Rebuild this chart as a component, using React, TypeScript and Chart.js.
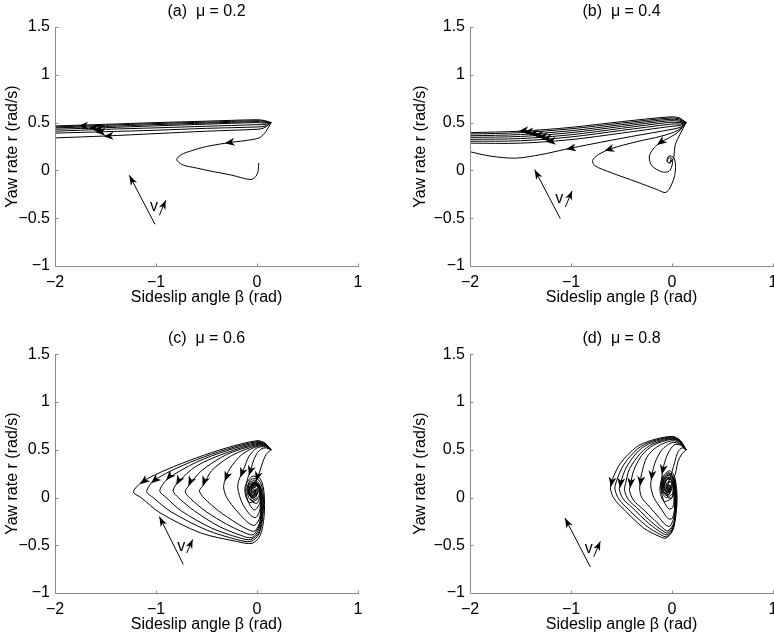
import React, { useEffect, useRef } from "react";
import { Chart, registerables } from "chart.js";

Chart.register(...registerables);

type Pt = [number, number];
type Arrow = [number, number, number, number]; // fromX, fromY, toX(tip), toY(tip)

// ---------- axis ticks & labels ----------
const xTickValues = [-2, -1, 0, 1];
const xTickLabels = ["\u22122", "\u22121", "0", "1"];
const yTickValues = [-1, -0.5, 0, 0.5, 1, 1.5];
const yTickLabels = ["\u22121", "\u22120.5", "0", "0.5", "1", "1.5"];
const panelTitles = ["(a)  \u03bc = 0.2", "(b)  \u03bc = 0.4", "(c)  \u03bc = 0.6", "(d)  \u03bc = 0.8"];
const xAxisTitle = "Sideslip angle \u03b2 (rad)";
const yAxisTitle = "Yaw rate r (rad/s)";
const speedLabel = "v";

// ---------- (a) mu = 0.2 ----------
const trajA1: Pt[] = [[0.14,0.5],[0.08,0.52],[0.0,0.53],[-0.5,0.515],[-1.0,0.5],[-1.5,0.482],[-2.0,0.465]];
const trajA2: Pt[] = [[0.14,0.5],[0.07,0.515],[0.0,0.52],[-0.5,0.505],[-1.0,0.49],[-1.5,0.472],[-2.0,0.455]];
const trajA3: Pt[] = [[0.14,0.5],[0.07,0.505],[0.0,0.51],[-0.5,0.495],[-1.0,0.479],[-1.5,0.46],[-2.0,0.445]];
const trajA4: Pt[] = [[0.14,0.5],[0.07,0.495],[0.0,0.5],[-0.5,0.484],[-1.0,0.466],[-1.5,0.447],[-2.0,0.43]];
const trajA5: Pt[] = [[0.14,0.5],[0.08,0.48],[0.0,0.478],[-0.5,0.462],[-1.0,0.445],[-1.5,0.43],[-2.0,0.41]];
const trajA6: Pt[] = [[0.14,0.5],[0.09,0.465],[0.02,0.455],[-0.5,0.44],[-1.0,0.42],[-1.5,0.405],[-2.0,0.39]];
const trajA7: Pt[] = [[0.14,0.5],[0.1,0.465],[0.06,0.44],[0.0,0.43],[-0.5,0.41],[-1.0,0.385],[-1.5,0.36],[-2.0,0.34]];
const trajA8: Pt[] = [[0.14,0.5],[0.09,0.41],[0.03,0.345],[-0.05,0.322],[-0.27,0.291],[-0.5,0.25],[-0.65,0.205],[-0.75,0.165],[-0.795,0.113],[-0.74,0.06],[-0.6,0.025],[-0.465,-0.006],[-0.25,-0.05],[-0.06,-0.096],[-0.01,-0.06],[0.012,0.0],[0.017,0.077]];
const arrowsA: Arrow[] = [
  [-1.62,0.47,-1.77,0.465],
  [-1.52,0.447,-1.67,0.442],
  [-1.47,0.43,-1.62,0.425],
  [-1.45,0.405,-1.6,0.4],
  [-1.37,0.364,-1.52,0.358],
  [-0.2,0.303,-0.32,0.283],
];
const vLongA: Pt[] = [[-1.01,-0.564],[-1.264,-0.051]];
const vShortA: Pt[] = [[-0.967,-0.47],[-0.904,-0.313]];
const vLabelA: Pt = [-1.02,-0.38];

// ---------- (b) mu = 0.4 ----------
const trajB1: Pt[] = [[0.14,0.5],[0.07,0.55],[-0.02,0.56],[-0.5,0.51],[-1.0,0.45],[-1.5,0.41],[-2.0,0.395]];
const trajB2: Pt[] = [[0.14,0.5],[0.07,0.54],[-0.02,0.548],[-0.5,0.495],[-1.0,0.435],[-1.5,0.395],[-2.0,0.38]];
const trajB3: Pt[] = [[0.14,0.5],[0.07,0.528],[-0.02,0.535],[-0.5,0.478],[-1.0,0.415],[-1.5,0.375],[-2.0,0.362]];
const trajB4: Pt[] = [[0.14,0.5],[0.07,0.515],[-0.02,0.52],[-0.5,0.46],[-1.0,0.395],[-1.5,0.355],[-2.0,0.345]];
const trajB5: Pt[] = [[0.14,0.5],[0.07,0.5],[-0.02,0.503],[-0.5,0.44],[-1.0,0.373],[-1.5,0.333],[-2.0,0.325]];
const trajB6: Pt[] = [[0.14,0.5],[0.08,0.485],[0.0,0.485],[-0.5,0.418],[-1.0,0.35],[-1.5,0.31],[-2.0,0.305]];
const trajB7: Pt[] = [[0.14,0.5],[0.08,0.47],[0.0,0.462],[-0.5,0.39],[-1.0,0.322],[-1.5,0.285],[-2.0,0.285]];
const trajB8: Pt[] = [[0.14,0.5],[0.08,0.45],[0.0,0.43],[-0.4,0.355],[-0.8,0.275],[-1.05,0.222],[-1.3,0.165],[-1.55,0.128],[-1.8,0.15],[-2.0,0.195]];
const trajB9: Pt[] = [[0.14,0.5],[0.06,0.42],[-0.1,0.36],[-0.35,0.3],[-0.6,0.228],[-0.73,0.165],[-0.785,0.105],[-0.765,0.05],[-0.6,-0.025],[-0.35,-0.12],[-0.15,-0.2],[-0.07,-0.232],[-0.03,-0.2],[0.02,-0.08],[0.035,0.03],[0.02,0.13],[-0.03,0.15],[-0.05,0.1],[-0.025,0.075],[-0.005,0.1],[-0.02,0.115]];
const trajB10: Pt[] = [[0.14,0.5],[0.06,0.4],[-0.04,0.335],[-0.12,0.29],[-0.19,0.22],[-0.225,0.14],[-0.2,0.05],[-0.1,-0.015],[-0.03,-0.01],[0.0,0.05],[0.0,0.12],[-0.035,0.13],[-0.045,0.09],[-0.02,0.08],[-0.015,0.105]];
const trajB11: Pt[] = [[0.14,0.5],[0.08,0.38],[0.03,0.26],[0.02,0.15],[0.0,0.1],[-0.02,0.1]];
const arrowsB: Arrow[] = [
  [-1.38,0.425,-1.52,0.41],
  [-1.33,0.41,-1.47,0.4],
  [-1.28,0.393,-1.42,0.382],
  [-1.23,0.377,-1.37,0.365],
  [-1.19,0.36,-1.33,0.347],
  [-1.15,0.342,-1.29,0.327],
  [-1.11,0.313,-1.25,0.3],
  [-0.92,0.248,-1.05,0.222],
  [-0.55,0.243,-0.67,0.205],
  [-0.08,0.318,-0.15,0.265],
];
const vLongB: Pt[] = [[-1.106,-0.504],[-1.36,0.008]];
const vShortB: Pt[] = [[-1.056,-0.383],[-0.99,-0.215]];
const vLabelB: Pt = [-1.116,-0.29];

// ---------- (c) mu = 0.6 ----------
const trajC1: Pt[] = [[0.14,0.5],[0.08,0.57],[0.0,0.595],[-0.3,0.52],[-0.6,0.415],[-0.9,0.29],[-1.13,0.17],[-1.21,0.09],[-1.22,0.05],[-1.15,0.0],[-0.96,-0.16],[-0.56,-0.37],[-0.2,-0.46],[-0.05,-0.48],[0.03,-0.4],[0.07,-0.2],[0.07,0.05],[0.03,0.2],[-0.05,0.22],[-0.12,0.1],[-0.08,-0.05],[0.02,0.0],[0.03,0.12],[-0.03,0.15],[-0.06,0.07],[-0.02,0.04],[-0.01,0.09]];
const trajC2: Pt[] = [[0.14,0.5],[0.08,0.565],[0.0,0.585],[-0.3,0.505],[-0.6,0.395],[-0.85,0.28],[-1.03,0.17],[-1.08,0.1],[-1.09,0.055],[-1.03,0.0],[-0.85,-0.15],[-0.5,-0.34],[-0.2,-0.44],[-0.06,-0.46],[0.02,-0.38],[0.06,-0.18],[0.06,0.05],[0.02,0.18],[-0.06,0.19],[-0.1,0.08],[-0.06,-0.03],[0.02,0.02],[0.02,0.12],[-0.04,0.12],[-0.03,0.07]];
const trajC3: Pt[] = [[0.14,0.5],[0.08,0.56],[0.0,0.575],[-0.3,0.49],[-0.6,0.37],[-0.88,0.2],[-0.95,0.11],[-0.96,0.06],[-0.9,0.0],[-0.75,-0.14],[-0.45,-0.32],[-0.18,-0.42],[-0.06,-0.44],[0.02,-0.36],[0.055,-0.15],[0.05,0.06],[0.0,0.17],[-0.07,0.16],[-0.09,0.06],[-0.04,-0.01],[0.01,0.05],[0.0,0.12],[-0.04,0.1]];
const trajC4: Pt[] = [[0.14,0.5],[0.08,0.555],[0.0,0.565],[-0.3,0.47],[-0.6,0.33],[-0.79,0.15],[-0.83,0.07],[-0.78,0.0],[-0.62,-0.14],[-0.38,-0.3],[-0.15,-0.4],[-0.05,-0.42],[0.02,-0.33],[0.05,-0.12],[0.04,0.07],[-0.01,0.16],[-0.08,0.13],[-0.08,0.03],[-0.02,0.0],[0.01,0.08],[-0.03,0.11]];
const trajC5: Pt[] = [[0.14,0.5],[0.08,0.55],[0.0,0.555],[-0.3,0.45],[-0.55,0.28],[-0.67,0.13],[-0.71,0.06],[-0.66,-0.01],[-0.5,-0.15],[-0.3,-0.28],[-0.12,-0.37],[-0.04,-0.39],[0.02,-0.3],[0.045,-0.1],[0.03,0.08],[-0.02,0.15],[-0.08,0.1],[-0.07,0.02],[-0.01,0.02],[0.0,0.09]];
const trajC6: Pt[] = [[0.14,0.5],[0.08,0.545],[0.0,0.545],[-0.25,0.44],[-0.45,0.28],[-0.53,0.13],[-0.57,0.07],[-0.52,-0.01],[-0.38,-0.14],[-0.2,-0.27],[-0.08,-0.34],[-0.02,-0.35],[0.03,-0.25],[0.04,-0.06],[0.02,0.1],[-0.04,0.14],[-0.08,0.07],[-0.05,0.0],[0.0,0.05]];
const trajC7: Pt[] = [[0.14,0.5],[0.08,0.54],[0.0,0.535],[-0.15,0.45],[-0.27,0.3],[-0.32,0.17],[-0.33,0.1],[-0.3,0.0],[-0.2,-0.14],[-0.08,-0.27],[-0.02,-0.29],[0.03,-0.2],[0.04,0.0],[0.01,0.14],[-0.05,0.15],[-0.08,0.06],[-0.04,0.02],[-0.01,0.08]];
const trajC8: Pt[] = [[0.14,0.5],[0.08,0.53],[0.0,0.52],[-0.08,0.43],[-0.13,0.3],[-0.18,0.18],[-0.19,0.1],[-0.15,-0.05],[-0.07,-0.18],[-0.01,-0.21],[0.03,-0.12],[0.03,0.05],[0.0,0.15],[-0.06,0.13],[-0.07,0.04],[-0.02,0.03],[-0.02,0.09]];
const trajC9: Pt[] = [[0.14,0.5],[0.08,0.52],[0.02,0.49],[-0.03,0.4],[-0.06,0.3],[-0.1,0.17],[-0.11,0.05],[-0.07,-0.08],[-0.02,-0.13],[0.03,-0.05],[0.03,0.08],[-0.01,0.15],[-0.06,0.11],[-0.05,0.04],[-0.02,0.08]];
const trajC10: Pt[] = [[0.14,0.5],[0.09,0.45],[0.05,0.35],[0.02,0.25],[-0.02,0.15],[-0.06,0.05],[-0.05,-0.04],[0.0,-0.06],[0.03,0.02],[0.01,0.12],[-0.04,0.13],[-0.05,0.07],[-0.02,0.06]];
const arrowsC: Arrow[] = [
  [-1.06,0.22,-1.16,0.14],
  [-0.97,0.22,-1.05,0.15],
  [-0.84,0.25,-0.9,0.18],
  [-0.76,0.21,-0.8,0.13],
  [-0.645,0.2,-0.68,0.12],
  [-0.51,0.2,-0.54,0.12],
  [-0.29,0.25,-0.32,0.17],
  [-0.14,0.28,-0.165,0.21],
  [-0.06,0.3,-0.08,0.23],
  [0.01,0.24,-0.01,0.17],
];
const vLongC: Pt[] = [[-0.73,-0.7],[-0.967,-0.2]];
const vShortC: Pt[] = [[-0.696,-0.58],[-0.637,-0.44]];
const vLabelC: Pt = [-0.75,-0.51];

// ---------- (d) mu = 0.8 ----------
const trajD1: Pt[] = [[0.14,0.5],[0.08,0.6],[0.0,0.64],[-0.2,0.6],[-0.35,0.53],[-0.51,0.36],[-0.59,0.19],[-0.61,0.1],[-0.58,0.0],[-0.51,-0.09],[-0.28,-0.32],[-0.12,-0.41],[-0.06,-0.425],[0.0,-0.36],[0.03,-0.25],[0.05,-0.02],[0.03,0.2],[-0.02,0.28],[-0.09,0.22],[-0.12,0.08],[-0.08,-0.04],[0.0,0.0],[0.02,0.12],[-0.03,0.2],[-0.08,0.13],[-0.05,0.06],[-0.03,0.12]];
const trajD2: Pt[] = [[0.14,0.5],[0.08,0.595],[0.0,0.633],[-0.2,0.588],[-0.34,0.51],[-0.48,0.34],[-0.55,0.17],[-0.565,0.09],[-0.53,-0.01],[-0.46,-0.095],[-0.25,-0.3],[-0.11,-0.39],[-0.055,-0.41],[0.005,-0.34],[0.035,-0.17],[0.04,0.05],[0.02,0.2],[-0.03,0.26],[-0.09,0.2],[-0.1,0.08],[-0.05,0.02],[0.0,0.1],[-0.04,0.14]];
const trajD3: Pt[] = [[0.14,0.5],[0.08,0.59],[0.0,0.625],[-0.2,0.575],[-0.33,0.49],[-0.45,0.32],[-0.51,0.15],[-0.52,0.08],[-0.48,-0.02],[-0.4,-0.1],[-0.22,-0.28],[-0.1,-0.37],[-0.05,-0.39],[0.01,-0.32],[0.04,-0.1],[0.03,0.15],[-0.02,0.25],[-0.08,0.2],[-0.1,0.08],[-0.06,0.0],[0.01,0.05],[0.0,0.16],[-0.05,0.15],[-0.05,0.1]];
const trajD4: Pt[] = [[0.14,0.5],[0.08,0.585],[0.0,0.617],[-0.19,0.562],[-0.31,0.465],[-0.42,0.3],[-0.46,0.145],[-0.47,0.075],[-0.43,-0.025],[-0.35,-0.105],[-0.2,-0.26],[-0.09,-0.35],[-0.045,-0.37],[0.015,-0.29],[0.04,-0.08],[0.025,0.16],[-0.025,0.24],[-0.08,0.19],[-0.09,0.07],[-0.04,0.02],[-0.01,0.11]];
const trajD5: Pt[] = [[0.14,0.5],[0.08,0.58],[0.0,0.61],[-0.18,0.55],[-0.3,0.44],[-0.38,0.28],[-0.41,0.14],[-0.42,0.07],[-0.38,-0.03],[-0.3,-0.11],[-0.17,-0.24],[-0.08,-0.33],[-0.04,-0.35],[0.02,-0.26],[0.035,-0.05],[0.02,0.17],[-0.03,0.23],[-0.08,0.17],[-0.08,0.06],[-0.03,0.03],[-0.01,0.12],[-0.05,0.13]];
const trajD6: Pt[] = [[0.14,0.5],[0.08,0.57],[0.0,0.595],[-0.15,0.53],[-0.25,0.42],[-0.3,0.25],[-0.32,0.1],[-0.3,0.0],[-0.22,-0.1],[-0.12,-0.22],[-0.06,-0.29],[-0.02,-0.3],[0.02,-0.2],[0.03,0.0],[0.01,0.18],[-0.04,0.21],[-0.08,0.14],[-0.06,0.05],[-0.02,0.07],[-0.03,0.12]];
const trajD7: Pt[] = [[0.14,0.5],[0.08,0.56],[0.0,0.575],[-0.1,0.5],[-0.17,0.36],[-0.2,0.22],[-0.21,0.12],[-0.18,0.0],[-0.1,-0.13],[-0.04,-0.22],[0.0,-0.22],[0.025,-0.12],[0.02,0.06],[0.0,0.18],[-0.05,0.19],[-0.08,0.11],[-0.05,0.05],[-0.02,0.1]];
const trajD8: Pt[] = [[0.14,0.5],[0.08,0.55],[0.02,0.55],[-0.04,0.46],[-0.08,0.34],[-0.1,0.22],[-0.11,0.1],[-0.08,-0.04],[-0.03,-0.12],[0.01,-0.1],[0.02,0.02],[0.01,0.15],[-0.03,0.2],[-0.07,0.15],[-0.06,0.08],[-0.03,0.1]];
const trajD9: Pt[] = [[0.14,0.5],[0.1,0.52],[0.06,0.48],[0.03,0.38],[0.0,0.27],[-0.03,0.17],[-0.05,0.08],[-0.04,0.0],[0.0,0.0],[0.01,0.1],[-0.02,0.17],[-0.06,0.14],[-0.05,0.09]];
const trajD10: Pt[] = [[0.14,0.5],[0.1,0.46],[0.06,0.38],[0.04,0.28],[0.02,0.2],[-0.01,0.12],[-0.04,0.05],[-0.03,0.1]];
const arrowsD: Arrow[] = [
  [-0.59,0.2,-0.605,0.11],
  [-0.505,0.18,-0.515,0.1],
  [-0.405,0.18,-0.415,0.1],
  [-0.305,0.22,-0.315,0.12],
  [-0.195,0.27,-0.205,0.18],
  [-0.085,0.32,-0.1,0.24],
];
const vLongD: Pt[] = [[-0.808,-0.728],[-1.06,-0.215]];
const vShortD: Pt[] = [[-0.775,-0.62],[-0.71,-0.46]];
const vLabelD: Pt = [-0.825,-0.54];

// ---------- rendering ----------
const FONT = '"Liberation Sans", Arial, Helvetica, sans-serif';
const AXIS_COLOR = "#8a8a8a";
const INK = "#000000";

interface Box {
  left: number; top: number; width: number; height: number;
  padLeft: number; padRight: number; padBottom: number;
  yAxisWidth: number; xAxisHeight: number;
  titleTop: number; titleBottom: number;
}

interface PanelProps {
  title: string;
  trajectories: Pt[][];
  arrows: Arrow[];
  vLong: Pt[];
  vShort: Pt[];
  vLabel: Pt;
  box: Box;
}

function drawHead(ctx: CanvasRenderingContext2D, x1: number, y1: number, x2: number, y2: number, len: number, half: number) {
  const dx = x2 - x1, dy = y2 - y1;
  const d = Math.hypot(dx, dy) || 1;
  const ux = dx / d, uy = dy / d;
  const px = -uy, py = ux;
  const bx = x2 - ux * len, by = y2 - uy * len;
  const nx = x2 - ux * len * 0.72, ny = y2 - uy * len * 0.72;
  ctx.beginPath();
  ctx.moveTo(x2, y2);
  ctx.lineTo(bx + px * half, by + py * half);
  ctx.lineTo(nx, ny);
  ctx.lineTo(bx - px * half, by - py * half);
  ctx.closePath();
  ctx.fill();
}

function Panel(props: PanelProps) {
  const ref = useRef<HTMLCanvasElement | null>(null);
  const { box } = props;

  useEffect(() => {
    const canvas = ref.current;
    if (!canvas) return;
    const lineDs = (pts: Pt[], tension: number) => ({
      data: pts.map(([x, y]) => ({ x, y })),
      showLine: true,
      pointRadius: 0,
      pointHoverRadius: 0,
      borderColor: INK,
      borderWidth: 1,
      tension,
      fill: false,
    });
    const datasets: any[] = [
      ...props.trajectories.map((t) => lineDs(t, 0.3)),
      lineDs(props.vLong, 0),
      lineDs(props.vShort, 0),
    ];

    const decor = {
      id: "decor",
      afterDatasetsDraw(chart: any) {
        const ctx: CanvasRenderingContext2D = chart.ctx;
        const xs = chart.scales.x;
        const ys = chart.scales.y;
        const a = chart.chartArea;
        ctx.save();
        // axes (left & bottom only) with inward ticks
        ctx.strokeStyle = AXIS_COLOR;
        ctx.lineWidth = 1;
        const L = Math.round(a.left) + 0.5;
        const B = Math.round(a.bottom) + 0.5;
        ctx.beginPath();
        ctx.moveTo(L, Math.round(a.top));
        ctx.lineTo(L, B);
        ctx.lineTo(Math.round(a.right) + 1, B);
        xTickValues.forEach((v) => {
          const px = Math.round(xs.getPixelForValue(v)) + 0.5;
          ctx.moveTo(px, B);
          ctx.lineTo(px, B - 3);
        });
        yTickValues.forEach((v) => {
          const py = Math.round(ys.getPixelForValue(v)) + 0.5;
          ctx.moveTo(L, py);
          ctx.lineTo(L + 3, py);
        });
        ctx.stroke();

        // trajectory arrowheads
        ctx.fillStyle = INK;
        props.arrows.forEach(([fx, fy, tx, ty]) => {
          drawHead(ctx, xs.getPixelForValue(fx), ys.getPixelForValue(fy), xs.getPixelForValue(tx), ys.getPixelForValue(ty), 10, 4);
        });
        // speed indicator arrowheads
        const vl = props.vLong, vs = props.vShort;
        drawHead(ctx, xs.getPixelForValue(vl[0][0]), ys.getPixelForValue(vl[0][1]), xs.getPixelForValue(vl[1][0]), ys.getPixelForValue(vl[1][1]), 10, 3.5);
        drawHead(ctx, xs.getPixelForValue(vs[0][0]), ys.getPixelForValue(vs[0][1]), xs.getPixelForValue(vs[1][0]), ys.getPixelForValue(vs[1][1]), 9, 3.5);
        // speed label
        ctx.font = "16px " + FONT;
        ctx.textAlign = "center";
        ctx.textBaseline = "middle";
        ctx.fillText(speedLabel, xs.getPixelForValue(props.vLabel[0]), ys.getPixelForValue(props.vLabel[1]));
        ctx.restore();
      },
    };

    const tickFont = { family: FONT, size: 16 };
    const chart = new Chart(canvas, {
      type: "scatter",
      data: { datasets },
      options: {
        responsive: false,
        animation: false,
        devicePixelRatio: 1,
        events: [],
        layout: {
          autoPadding: false,
          padding: { left: box.padLeft, right: box.padRight, top: 0, bottom: box.padBottom },
        },
        plugins: {
          legend: { display: false },
          tooltip: { enabled: false },
          title: {
            display: true,
            text: props.title,
            fullSize: false,
            color: INK,
            font: { family: FONT, size: 16, weight: "normal" },
            padding: { top: box.titleTop, bottom: box.titleBottom },
          },
        },
        scales: {
          x: {
            type: "linear",
            position: "bottom",
            min: -2,
            max: 1,
            grid: { display: false, drawTicks: false },
            border: { display: false },
            afterBuildTicks: (axis: any) => {
              axis.ticks = xTickValues.map((value) => ({ value }));
            },
            afterFit: (axis: any) => {
              axis.height = box.xAxisHeight;
              axis.paddingLeft = 0;
              axis.paddingRight = 0;
            },
            ticks: {
              autoSkip: false,
              maxRotation: 0,
              padding: 7,
              color: INK,
              font: tickFont,
              callback: (v: any) => {
                const i = xTickValues.indexOf(Number(v));
                return i >= 0 ? xTickLabels[i] : "";
              },
            },
            title: {
              display: true,
              text: xAxisTitle,
              color: INK,
              font: { family: FONT, size: 16 },
              padding: { top: 3, bottom: 3 },
            },
          },
          y: {
            type: "linear",
            position: "left",
            min: -1,
            max: 1.5,
            grid: { display: false, drawTicks: false },
            border: { display: false },
            afterBuildTicks: (axis: any) => {
              axis.ticks = yTickValues.map((value) => ({ value }));
            },
            afterFit: (axis: any) => {
              axis.width = box.yAxisWidth;
              axis.paddingTop = 0;
              axis.paddingBottom = 0;
            },
            ticks: {
              autoSkip: false,
              padding: 5,
              color: INK,
              font: tickFont,
              callback: (v: any) => {
                const i = yTickValues.indexOf(Number(v));
                return i >= 0 ? yTickLabels[i] : "";
              },
            },
            title: {
              display: true,
              text: yAxisTitle,
              color: INK,
              font: { family: FONT, size: 16 },
              padding: { top: 3, bottom: 3 },
            },
          },
        },
      } as any,
      plugins: [decor],
    });
    return () => chart.destroy();
  }, []);

  return (
    <canvas
      ref={ref}
      width={box.width}
      height={box.height}
      style={{ position: "absolute", left: box.left, top: box.top, width: box.width, height: box.height }}
    />
  );
}

const boxA: Box = { left: 0, top: 0, width: 387, height: 320, padLeft: 0, padRight: 29, padBottom: 10, yAxisWidth: 55, xAxisHeight: 44, titleTop: 1.5, titleBottom: 6.3 };
const boxB: Box = { left: 387, top: 0, width: 387, height: 320, padLeft: 21, padRight: 1, padBottom: 10, yAxisWidth: 62, xAxisHeight: 44, titleTop: 1.5, titleBottom: 6.3 };
const boxC: Box = { left: 0, top: 320, width: 387, height: 321, padLeft: 0, padRight: 29, padBottom: 4, yAxisWidth: 55, xAxisHeight: 44, titleTop: 8.5, titleBottom: 6.6 };
const boxD: Box = { left: 387, top: 320, width: 387, height: 321, padLeft: 21, padRight: 1, padBottom: 4, yAxisWidth: 62, xAxisHeight: 44, titleTop: 8.5, titleBottom: 6.6 };

const PANELS: PanelProps[] = [
  { title: panelTitles[0], trajectories: [trajA1, trajA2, trajA3, trajA4, trajA5, trajA6, trajA7, trajA8], arrows: arrowsA, vLong: vLongA, vShort: vShortA, vLabel: vLabelA, box: boxA },
  { title: panelTitles[1], trajectories: [trajB1, trajB2, trajB3, trajB4, trajB5, trajB6, trajB7, trajB8, trajB9, trajB10, trajB11], arrows: arrowsB, vLong: vLongB, vShort: vShortB, vLabel: vLabelB, box: boxB },
  { title: panelTitles[2], trajectories: [trajC1, trajC2, trajC3, trajC4, trajC5, trajC6, trajC7, trajC8, trajC9, trajC10], arrows: arrowsC, vLong: vLongC, vShort: vShortC, vLabel: vLabelC, box: boxC },
  { title: panelTitles[3], trajectories: [trajD1, trajD2, trajD3, trajD4, trajD5, trajD6, trajD7, trajD8, trajD9, trajD10], arrows: arrowsD, vLong: vLongD, vShort: vShortD, vLabel: vLabelD, box: boxD },
];

export default function App() {
  return (
    <div style={{ position: "fixed", left: 0, top: 0, width: 774, height: 641, background: "#ffffff", overflow: "hidden" }}>
      {PANELS.map((p, i) => (
        <Panel key={i} {...p} />
      ))}
    </div>
  );
}
